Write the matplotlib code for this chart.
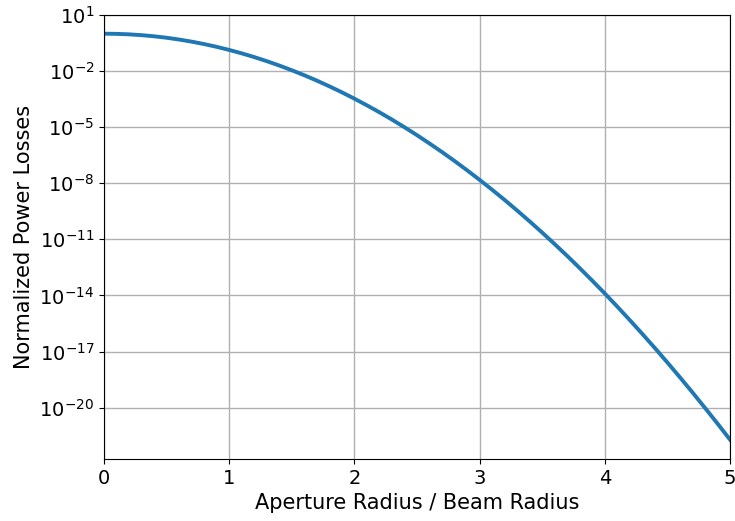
import numpy as np
import matplotlib
matplotlib.use("Agg")
import matplotlib.pyplot as plt

# aperture radius normalised to the beam radius
ratio = [0.0, 0.1, 0.2, 0.3, 0.4, 0.5, 0.6, 0.7, 0.8, 0.9,
         1.0, 1.1, 1.2, 1.3, 1.4, 1.5, 1.6, 1.7, 1.8, 1.9,
         2.0, 2.1, 2.2, 2.3, 2.4, 2.5, 2.6, 2.7, 2.8, 2.9,
         3.0, 3.1, 3.2, 3.3, 3.4, 3.5, 3.6, 3.7, 3.8, 3.9,
         4.0, 4.1, 4.2, 4.3, 4.4, 4.5, 4.6, 4.7, 4.8, 4.9, 5.0]
# fraction of beam power clipped by the aperture
losses = [1.0, 0.980, 0.923, 0.835, 0.726, 0.607, 0.487, 0.375, 0.278, 0.198,
          0.135, 8.89e-2, 5.61e-2, 3.40e-2, 1.98e-2, 1.11e-2, 5.98e-3, 3.09e-3, 1.53e-3, 7.32e-4,
          3.35e-4, 1.47e-4, 6.25e-5, 2.54e-5, 9.93e-6, 3.73e-6, 1.34e-6, 4.66e-7, 1.55e-7, 4.95e-8,
          1.52e-8, 4.50e-9, 1.28e-9, 3.48e-10, 9.10e-11, 2.29e-11, 5.53e-12, 1.29e-12, 2.87e-13, 6.14e-14,
          1.27e-14, 2.51e-15, 4.77e-16, 8.71e-17, 1.53e-17, 2.58e-18, 4.17e-19, 6.50e-20, 9.71e-21, 1.40e-21,
          1.93e-22]

plt.rcParams["font.size"] = 15
plt.rcParams["xtick.labelsize"] = 14
plt.rcParams["ytick.labelsize"] = 14

fig = plt.figure(figsize=(7.35, 5.21), dpi=100)
ax = fig.add_axes([104 / 735, 1 - 459 / 521, 626 / 735, 444 / 521])
ax.plot(ratio, losses, color="tab:blue", linewidth=2.8)
ax.set_yscale("log")
ax.set_xlim(0, 5)
ax.set_ylim(10 ** -22.75, 10)
ax.set_yticks([10.0 ** k for k in range(1, -21, -3)])
ax.minorticks_off()
ax.grid(True, color="#b0b0b0", linewidth=1.0)
ax.set_xlabel("Aperture Radius / Beam Radius")
ax.set_ylabel("Normalized Power Losses")

fig.savefig("out.png", dpi=100)
plt.close(fig)
